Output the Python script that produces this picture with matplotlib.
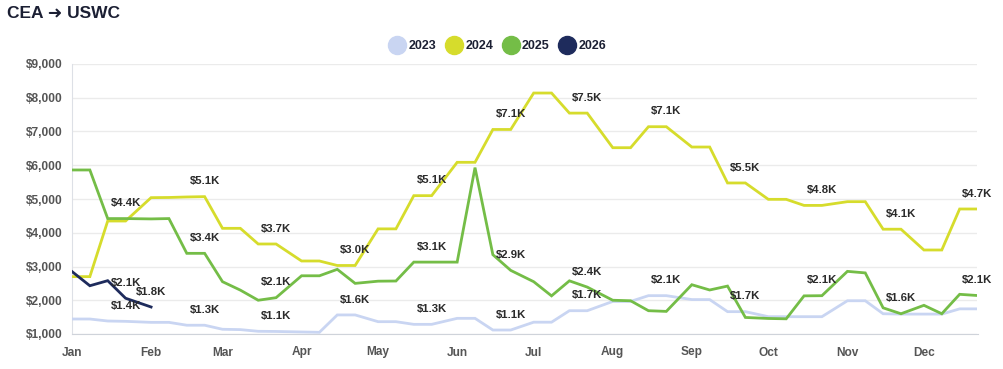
import matplotlib
matplotlib.use("Agg")
import matplotlib.pyplot as plt
import matplotlib.dates as mdates
from matplotlib.lines import Line2D
from matplotlib.ticker import FuncFormatter
import pandas as pd

plt.rcParams['font.family'] = ['Liberation Sans', 'DejaVu Sans']

# ---------------- data ----------------
title = "CEA \u279C USWC"
series_names = ["2023", "2024", "2025", "2026"]
series_colors = ["#c9d5f2", "#d6dc2c", "#74bd47", "#1e2b5c"]

# observation dates (month-day), 1st/8th/15th/22nd of every month
month_days = [f"{m:02d}-{d:02d}" for m in range(1, 13) for d in (1, 8, 15, 22)]

vals_2023 = [1444, 1444, 1385, 1375,  1345, 1345, 1260, 1260,
             1140, 1130, 1080, 1075,  1060, 1050, 1565, 1565,
             1365, 1365, 1286, 1286,  1464, 1464, 1118, 1118,
             1350, 1350, 1690, 1690,  1965, 1965, 2136, 2136,
             2020, 2020, 1662, 1662,  1513, 1513, 1513, 1513,
             1985, 1985, 1600, 1590,  1590, 1590, 1745, 1745]
vals_2024 = [2700, 2700, 4348, 4348,  5040, 5045, 5060, 5070,
             4131, 4131, 3667, 3667,  3163, 3163, 3030, 3030,
             4115, 4115, 5099, 5099,  6087, 6087, 7060, 7060,
             8140, 8140, 7545, 7545,  6520, 6520, 7142, 7142,
             6540, 6540, 5475, 5475,  4990, 4990, 4810, 4810,
             4921, 4921, 4105, 4105,  3489, 3489, 4704, 4704]
vals_2025 = [5860, 5860, 4420, 4420,  4410, 4420, 3390, 3390,
             2550, 2300, 2000, 2076,  2725, 2725, 2916, 2500,
             2565, 2570, 3130, 3130,  3130, 5930, 3350, 2885,
             2550, 2130, 2575, 2390,  2000, 1985, 1690, 1670,
             2460, 2304, 2420, 1490,  1460, 1450, 2130, 2135,
             2856, 2810, 1775, 1600,  1850, 1600, 2176, 2140]
dates_2026 = ["01-01", "01-08", "01-15", "01-22", "02-01"]
vals_2026 = [2850, 2430, 2580, 2060, 1800]

# which points carry a value label
labels_2023 = ["01-22", "02-22", "03-22", "04-22", "05-22", "06-22", "07-22", "08-22", "09-22"]
labels_2024 = ["02-22", "03-22", "04-22", "05-22", "06-22", "07-22", "08-22", "09-22",
               "10-22", "11-22", "12-22"]
labels_2025 = ["01-22", "02-22", "03-22", "05-22", "06-22", "07-22", "10-22", "11-22", "12-22"]
labels_2026 = ["01-22", "02-01"]

y_ticks = [1000, 2000, 3000, 4000, 5000, 6000, 7000, 8000, 9000]
axis_year = 2023  # common (non-leap) calendar used for the x axis


def to_dates(mds):
    return pd.to_datetime([f"{axis_year}-{md}" for md in mds])


series = [
    (month_days, vals_2023, labels_2023),
    (month_days, vals_2024, labels_2024),
    (month_days, vals_2025, labels_2025),
    (dates_2026, vals_2026, labels_2026),
]

# ---------------- figure ----------------
fig = plt.figure(figsize=(10.04, 3.69), dpi=100)
ax = fig.add_axes([72 / 1004, 1 - 334 / 369, (977.5 - 72) / 1004, (334 - 64) / 369])

for (mds, vals, labs), name, color in zip(series, series_names, series_colors):
    x = to_dates(mds)
    ax.plot(x, vals, color=color, lw=2.0, solid_joinstyle='miter', zorder=3, label=name)

for (mds, vals, labs), name, color in zip(series, series_names, series_colors):
    for md, v in zip(mds, vals):
        if md in labs:
            ax.annotate(f"${v/1000:.1f}K", xy=(to_dates([md])[0], v), xytext=(0, 11),
                        textcoords='offset points', ha='center', va='center',
                        fontsize=8.2, fontweight='bold', color='#2b2b2b', zorder=5)

ax.set_ylim(y_ticks[0], y_ticks[-1])
ax.set_yticks(y_ticks)
ax.yaxis.set_major_formatter(FuncFormatter(lambda v, p: f"${v:,.0f}"))
ax.set_xlim(pd.Timestamp(f"{axis_year}-01-01"), pd.Timestamp(f"{axis_year}-12-22"))
ax.xaxis.set_major_locator(mdates.MonthLocator())
ax.xaxis.set_major_formatter(mdates.DateFormatter('%b'))

ax.grid(axis='y', color='#ebebeb', lw=1)
ax.set_axisbelow(True)
for s in ['top', 'right']:
    ax.spines[s].set_visible(False)
ax.spines['left'].set_color('#dde0e6')
ax.spines['bottom'].set_color('#cfd3da')
ax.tick_params(axis='both', length=0, labelsize=8.6, labelcolor='#555555')
ax.tick_params(axis='y', pad=7)
ax.tick_params(axis='x', pad=9)
for lbl in ax.get_xticklabels() + ax.get_yticklabels():
    lbl.set_fontweight('bold')

fig.text(0.007, 1 - 13 / 369, title, fontsize=12.5, fontweight='bold', color='#1b1f33',
         va='center', ha='left')

handles = [Line2D([], [], ls='none', marker='o', markersize=13, color=c) for c in series_colors]
leg = fig.legend(handles, series_names, loc='center', bbox_to_anchor=(498 / 1004, 1 - 46 / 369),
                 ncol=4, frameon=False, handlelength=1.2, handletextpad=0.3, columnspacing=0.8,
                 prop={'weight': 'bold', 'size': 9})
for t in leg.get_texts():
    t.set_color('#1b1f33')

fig.savefig("out.png", dpi=100)
